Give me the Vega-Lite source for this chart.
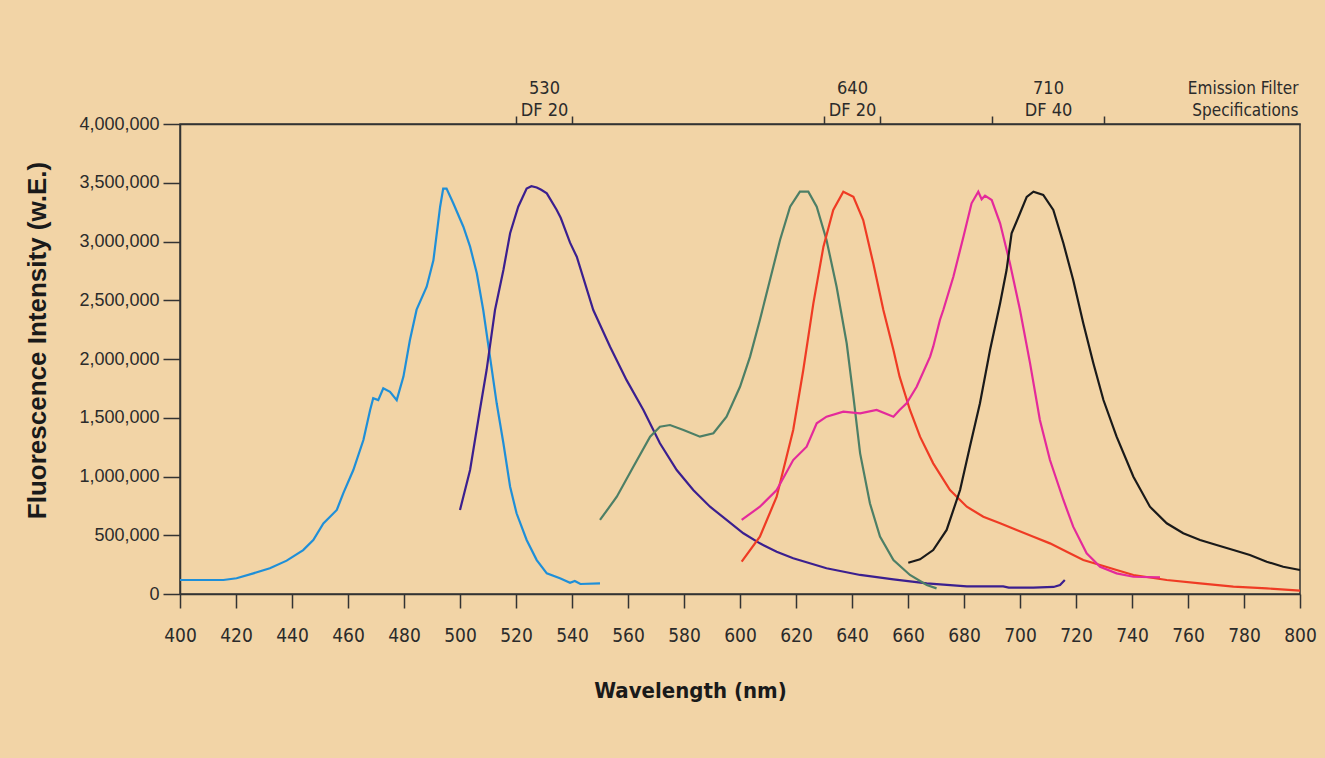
{
  "$schema": "https://vega.github.io/schema/vega-lite/v6.json",
  "width": 1120,
  "height": 470,
  "autosize": {"type": "none"},
  "padding": {"left": 180, "top": 124, "right": 25, "bottom": 164},
  "background": "#f2d4a6",
  "config": {"view": {"stroke": "#333333", "strokeWidth": 1.5}, "font": "Liberation Sans"},
  "layer": [
    {
      "data": {"values": [
        {"series": "blue", "nm": 400, "v": 119000}, {"series": "blue", "nm": 415.5, "v": 119000}, {"series": "blue", "nm": 420.2, "v": 134000}, {"series": "blue", "nm": 426.2, "v": 176000}, {"series": "blue", "nm": 432.1, "v": 219000}, {"series": "blue", "nm": 438.1, "v": 284000}, {"series": "blue", "nm": 444, "v": 374000}, {"series": "blue", "nm": 447.6, "v": 460000}, {"series": "blue", "nm": 451.2, "v": 600000}, {"series": "blue", "nm": 456, "v": 715000}, {"series": "blue", "nm": 458.3, "v": 857000}, {"series": "blue", "nm": 461.9, "v": 1055000}, {"series": "blue", "nm": 465.5, "v": 1310000}, {"series": "blue", "nm": 467.9, "v": 1566000}, {"series": "blue", "nm": 469, "v": 1666000}, {"series": "blue", "nm": 470.8, "v": 1650000}, {"series": "blue", "nm": 472.6, "v": 1750000}, {"series": "blue", "nm": 475, "v": 1720000}, {"series": "blue", "nm": 477.4, "v": 1650000}, {"series": "blue", "nm": 479.8, "v": 1850000}, {"series": "blue", "nm": 482.1, "v": 2160000}, {"series": "blue", "nm": 484.5, "v": 2420000}, {"series": "blue", "nm": 488.1, "v": 2615000}, {"series": "blue", "nm": 490.5, "v": 2840000}, {"series": "blue", "nm": 492.9, "v": 3296000}, {"series": "blue", "nm": 494, "v": 3450000}, {"series": "blue", "nm": 495.2, "v": 3450000}, {"series": "blue", "nm": 497.6, "v": 3325000}, {"series": "blue", "nm": 501.2, "v": 3126000}, {"series": "blue", "nm": 503.6, "v": 2956000}, {"series": "blue", "nm": 506, "v": 2730000}, {"series": "blue", "nm": 508.3, "v": 2417000}, {"series": "blue", "nm": 510.7, "v": 2020000}, {"series": "blue", "nm": 513.1, "v": 1623000}, {"series": "blue", "nm": 515.5, "v": 1283000}, {"series": "blue", "nm": 517.9, "v": 913000}, {"series": "blue", "nm": 520.2, "v": 687000}, {"series": "blue", "nm": 523.8, "v": 460000}, {"series": "blue", "nm": 527.4, "v": 289000}, {"series": "blue", "nm": 531, "v": 176000}, {"series": "blue", "nm": 535.7, "v": 134000}, {"series": "blue", "nm": 539.3, "v": 95000}, {"series": "blue", "nm": 541, "v": 110000}, {"series": "blue", "nm": 543, "v": 85000}, {"series": "blue", "nm": 550, "v": 90000},

        {"series": "purple", "nm": 500, "v": 715000}, {"series": "purple", "nm": 503.6, "v": 1055000}, {"series": "purple", "nm": 507.1, "v": 1566000}, {"series": "purple", "nm": 509.5, "v": 1906000}, {"series": "purple", "nm": 512.5, "v": 2417000}, {"series": "purple", "nm": 515.5, "v": 2757000}, {"series": "purple", "nm": 517.9, "v": 3070000}, {"series": "purple", "nm": 520.8, "v": 3296000}, {"series": "purple", "nm": 523.8, "v": 3450000}, {"series": "purple", "nm": 525.5, "v": 3470000}, {"series": "purple", "nm": 527.4, "v": 3460000}, {"series": "purple", "nm": 529, "v": 3440000}, {"series": "purple", "nm": 531, "v": 3410000}, {"series": "purple", "nm": 534.5, "v": 3270000}, {"series": "purple", "nm": 536, "v": 3200000}, {"series": "purple", "nm": 539.3, "v": 2990000}, {"series": "purple", "nm": 541.7, "v": 2870000}, {"series": "purple", "nm": 547.6, "v": 2417000}, {"series": "purple", "nm": 553.6, "v": 2105000}, {"series": "purple", "nm": 559.5, "v": 1820000}, {"series": "purple", "nm": 565.5, "v": 1566000}, {"series": "purple", "nm": 571.4, "v": 1283000}, {"series": "purple", "nm": 577.4, "v": 1055000}, {"series": "purple", "nm": 583.3, "v": 885000}, {"series": "purple", "nm": 589.3, "v": 743000}, {"series": "purple", "nm": 595.2, "v": 630000}, {"series": "purple", "nm": 601.2, "v": 517000}, {"series": "purple", "nm": 607.1, "v": 431000}, {"series": "purple", "nm": 613.1, "v": 360000}, {"series": "purple", "nm": 619, "v": 304000}, {"series": "purple", "nm": 630.9, "v": 219000}, {"series": "purple", "nm": 642.9, "v": 162000}, {"series": "purple", "nm": 654.8, "v": 125000}, {"series": "purple", "nm": 666.7, "v": 91000}, {"series": "purple", "nm": 681, "v": 65000}, {"series": "purple", "nm": 694, "v": 65000}, {"series": "purple", "nm": 696, "v": 55000}, {"series": "purple", "nm": 704.8, "v": 55000}, {"series": "purple", "nm": 712, "v": 60000}, {"series": "purple", "nm": 714.3, "v": 77000}, {"series": "purple", "nm": 716, "v": 119000},

        {"series": "green", "nm": 550, "v": 630000}, {"series": "green", "nm": 556, "v": 828000}, {"series": "green", "nm": 561.9, "v": 1083000}, {"series": "green", "nm": 567.9, "v": 1339000}, {"series": "green", "nm": 571.4, "v": 1424000}, {"series": "green", "nm": 575, "v": 1438000}, {"series": "green", "nm": 579.8, "v": 1396000}, {"series": "green", "nm": 585.7, "v": 1339000}, {"series": "green", "nm": 590.5, "v": 1368000}, {"series": "green", "nm": 595.2, "v": 1509000}, {"series": "green", "nm": 600, "v": 1764000}, {"series": "green", "nm": 603.6, "v": 2020000}, {"series": "green", "nm": 607.1, "v": 2332000}, {"series": "green", "nm": 610.7, "v": 2672000}, {"series": "green", "nm": 614.3, "v": 3013000}, {"series": "green", "nm": 617.9, "v": 3296000}, {"series": "green", "nm": 621.4, "v": 3424000}, {"series": "green", "nm": 624.4, "v": 3424000}, {"series": "green", "nm": 627.4, "v": 3296000}, {"series": "green", "nm": 630.9, "v": 3013000}, {"series": "green", "nm": 634.5, "v": 2615000}, {"series": "green", "nm": 638.1, "v": 2134000}, {"series": "green", "nm": 640.5, "v": 1679000}, {"series": "green", "nm": 642.9, "v": 1197000}, {"series": "green", "nm": 646.4, "v": 772000}, {"series": "green", "nm": 650, "v": 488000}, {"series": "green", "nm": 654.8, "v": 289000}, {"series": "green", "nm": 660.7, "v": 162000}, {"series": "green", "nm": 666.7, "v": 77000}, {"series": "green", "nm": 670.2, "v": 48000},

        {"series": "red", "nm": 600.6, "v": 275000}, {"series": "red", "nm": 607.1, "v": 488000}, {"series": "red", "nm": 613.1, "v": 828000}, {"series": "red", "nm": 619, "v": 1396000}, {"series": "red", "nm": 622.6, "v": 1906000}, {"series": "red", "nm": 626.2, "v": 2474000}, {"series": "red", "nm": 629.8, "v": 2956000}, {"series": "red", "nm": 633.3, "v": 3268000}, {"series": "red", "nm": 636.9, "v": 3424000}, {"series": "red", "nm": 640.5, "v": 3380000}, {"series": "red", "nm": 644, "v": 3183000}, {"series": "red", "nm": 647.6, "v": 2814000}, {"series": "red", "nm": 651.2, "v": 2417000}, {"series": "red", "nm": 654.8, "v": 2077000}, {"series": "red", "nm": 657, "v": 1850000}, {"series": "red", "nm": 660.7, "v": 1566000}, {"series": "red", "nm": 664.3, "v": 1339000}, {"series": "red", "nm": 669, "v": 1112000}, {"series": "red", "nm": 675, "v": 885000}, {"series": "red", "nm": 681, "v": 743000}, {"series": "red", "nm": 686.9, "v": 658000}, {"series": "red", "nm": 692.9, "v": 602000}, {"series": "red", "nm": 698.8, "v": 545000}, {"series": "red", "nm": 704.8, "v": 488000}, {"series": "red", "nm": 710.7, "v": 431000}, {"series": "red", "nm": 716.7, "v": 360000}, {"series": "red", "nm": 722.6, "v": 289000}, {"series": "red", "nm": 728.6, "v": 247000}, {"series": "red", "nm": 734.5, "v": 204000}, {"series": "red", "nm": 740.5, "v": 162000}, {"series": "red", "nm": 752.4, "v": 119000}, {"series": "red", "nm": 764.3, "v": 91000}, {"series": "red", "nm": 776.2, "v": 62000}, {"series": "red", "nm": 788.1, "v": 48000}, {"series": "red", "nm": 800, "v": 28000},

        {"series": "magenta", "nm": 600.6, "v": 630000}, {"series": "magenta", "nm": 607.1, "v": 743000}, {"series": "magenta", "nm": 613.1, "v": 885000}, {"series": "magenta", "nm": 619, "v": 1140000}, {"series": "magenta", "nm": 623.8, "v": 1254000}, {"series": "magenta", "nm": 627.4, "v": 1453000}, {"series": "magenta", "nm": 630.9, "v": 1509000}, {"series": "magenta", "nm": 636.9, "v": 1552000}, {"series": "magenta", "nm": 642.9, "v": 1538000}, {"series": "magenta", "nm": 648.8, "v": 1566000}, {"series": "magenta", "nm": 654.8, "v": 1509000}, {"series": "magenta", "nm": 657, "v": 1566000}, {"series": "magenta", "nm": 659.5, "v": 1623000}, {"series": "magenta", "nm": 663.1, "v": 1764000}, {"series": "magenta", "nm": 667.9, "v": 2020000}, {"series": "magenta", "nm": 669, "v": 2105000}, {"series": "magenta", "nm": 671.4, "v": 2332000}, {"series": "magenta", "nm": 672.6, "v": 2417000}, {"series": "magenta", "nm": 676.2, "v": 2700000}, {"series": "magenta", "nm": 679.8, "v": 3040000}, {"series": "magenta", "nm": 682.7, "v": 3325000}, {"series": "magenta", "nm": 685.1, "v": 3424000}, {"series": "magenta", "nm": 686.3, "v": 3360000}, {"series": "magenta", "nm": 687.5, "v": 3390000}, {"series": "magenta", "nm": 689.9, "v": 3353000}, {"series": "magenta", "nm": 692.9, "v": 3155000}, {"series": "magenta", "nm": 696.4, "v": 2814000}, {"series": "magenta", "nm": 700, "v": 2417000}, {"series": "magenta", "nm": 703.6, "v": 1963000}, {"series": "magenta", "nm": 707.1, "v": 1481000}, {"series": "magenta", "nm": 710.7, "v": 1140000}, {"series": "magenta", "nm": 715.5, "v": 800000}, {"series": "magenta", "nm": 719, "v": 573000}, {"series": "magenta", "nm": 723.8, "v": 346000}, {"series": "magenta", "nm": 728.6, "v": 232000}, {"series": "magenta", "nm": 734.5, "v": 176000}, {"series": "magenta", "nm": 740.5, "v": 147000}, {"series": "magenta", "nm": 750, "v": 142000},

        {"series": "black", "nm": 660.1, "v": 266000}, {"series": "black", "nm": 664.3, "v": 295000}, {"series": "black", "nm": 669, "v": 374000}, {"series": "black", "nm": 673.8, "v": 545000}, {"series": "black", "nm": 678.6, "v": 885000}, {"series": "black", "nm": 682.1, "v": 1254000}, {"series": "black", "nm": 685.7, "v": 1623000}, {"series": "black", "nm": 689.3, "v": 2077000}, {"series": "black", "nm": 692.9, "v": 2474000}, {"series": "black", "nm": 695.2, "v": 2757000}, {"series": "black", "nm": 697, "v": 3070000}, {"series": "black", "nm": 700, "v": 3240000}, {"series": "black", "nm": 702.4, "v": 3380000}, {"series": "black", "nm": 704.8, "v": 3424000}, {"series": "black", "nm": 708.3, "v": 3396000}, {"series": "black", "nm": 711.9, "v": 3268000}, {"series": "black", "nm": 715.5, "v": 2985000}, {"series": "black", "nm": 719, "v": 2672000}, {"series": "black", "nm": 722.6, "v": 2304000}, {"series": "black", "nm": 726.2, "v": 1963000}, {"series": "black", "nm": 729.8, "v": 1651000}, {"series": "black", "nm": 734.5, "v": 1339000}, {"series": "black", "nm": 740.5, "v": 998000}, {"series": "black", "nm": 746.4, "v": 743000}, {"series": "black", "nm": 752.4, "v": 602000}, {"series": "black", "nm": 758.3, "v": 517000}, {"series": "black", "nm": 764.3, "v": 460000}, {"series": "black", "nm": 770.2, "v": 417000}, {"series": "black", "nm": 776.2, "v": 374000}, {"series": "black", "nm": 782.1, "v": 332000}, {"series": "black", "nm": 788.1, "v": 275000}, {"series": "black", "nm": 794, "v": 232000}, {"series": "black", "nm": 800, "v": 204000}
      ]},
      "mark": {"type": "line", "strokeWidth": 2.2},
      "encoding": {
        "x": {
          "field": "nm", "type": "quantitative",
          "scale": {"domain": [400, 800], "nice": false, "zero": false},
          "axis": {
            "orient": "bottom",
            "values": [400, 420, 440, 460, 480, 500, 520, 540, 560, 580, 600, 620, 640, 660, 680, 700, 720, 740, 760, 780, 800],
            "grid": false,
            "domainColor": "#333333", "domainWidth": 1.5,
            "tickColor": "#333333", "tickWidth": 1.5, "tickSize": 14,
            "labelFont": "DejaVu Sans Condensed",
            "labelFontSize": 19, "labelColor": "#2b2b2b", "labelPadding": 18,
            "labelFlush": false, "labelOverlap": false,
            "title": "Wavelength (nm)",
            "titleFont": "DejaVu Sans Condensed",
            "titleFontSize": 22, "titleFontWeight": "bold", "titleColor": "#1a1a1a",
            "titleX": 510, "titleY": 96, "titleAlign": "center", "titleBaseline": "middle"
          }
        },
        "y": {
          "field": "v", "type": "quantitative",
          "scale": {"domain": [0, 4000000], "nice": false},
          "axis": {
            "values": [0, 500000, 1000000, 1500000, 2000000, 2500000, 3000000, 3500000, 4000000],
            "labelExpr": "format(datum.value, ',.0f')",
            "grid": false,
            "domainColor": "#333333", "domainWidth": 1.5,
            "tickColor": "#333333", "tickWidth": 1.5, "tickSize": 17,
            "labelFont": "Liberation Sans", "labelFontSize": 18, "labelColor": "#2b2b2b", "labelPadding": 4,
            "labelOverlap": false,
            "title": "Fluorescence Intensity (w.E.)",
            "titleFont": "Liberation Sans", "titleFontSize": 26, "titleFontWeight": "bold", "titleColor": "#1a1a1a",
            "titleX": -143, "titleY": 216, "titleAngle": -90, "titleAlign": "center", "titleBaseline": "middle"
          }
        },
        "color": {
          "field": "series", "type": "nominal",
          "scale": {"domain": ["blue", "purple", "green", "red", "magenta", "black"], "range": ["#1f8fd8", "#3b1f8f", "#4d7f66", "#ef3b24", "#e42a9b", "#1a1a1a"]},
          "legend": null
        }
      }
    },
    {
      "data": {"values": [
        {"filter": "530 DF 20", "center": 530, "lo": 520, "hi": 540},
        {"filter": "640 DF 20", "center": 640, "lo": 630, "hi": 650},
        {"filter": "710 DF 40", "center": 710, "lo": 690, "hi": 730}
      ]},
      "mark": {"type": "rule", "opacity": 0},
      "encoding": {
        "x": {
          "field": "center", "type": "quantitative",
          "axis": {
            "orient": "top",
            "values": [520, 530, 540, 630, 640, 650, 690, 710, 730],
            "grid": false,
            "domainColor": "#333333", "domainWidth": 1.5,
            "tickColor": "#333333", "tickWidth": 1.5, "tickSize": 8,
            "tickOpacity": {"condition": {"test": "datum.value == 530 || datum.value == 640 || datum.value == 710", "value": 0}, "value": 1},
            "labelExpr": "datum.value == 530 ? ['530', 'DF 20'] : datum.value == 640 ? ['640', 'DF 20'] : datum.value == 710 ? ['710', 'DF 40'] : ''",
            "labelFont": "DejaVu Sans Condensed",
            "labelFontSize": 18, "labelLineHeight": 22, "labelColor": "#2b2b2b",
            "labelBaseline": "alphabetic", "labelPadding": 23,
            "labelFlush": false, "labelOverlap": false, "labelBound": false,
            "title": ["Emission Filter", "Specifications"],
            "titleFont": "DejaVu Sans Condensed",
            "titleFontSize": 17, "titleFontWeight": "normal", "titleColor": "#2b2b2b", "titleLineHeight": 22,
            "titleX": 1118, "titleY": -31, "titleAlign": "right", "titleBaseline": "alphabetic", "titleAngle": 0
          }
        }
      }
    }
  ],
  "resolve": {"axis": {"x": "independent"}}
}
